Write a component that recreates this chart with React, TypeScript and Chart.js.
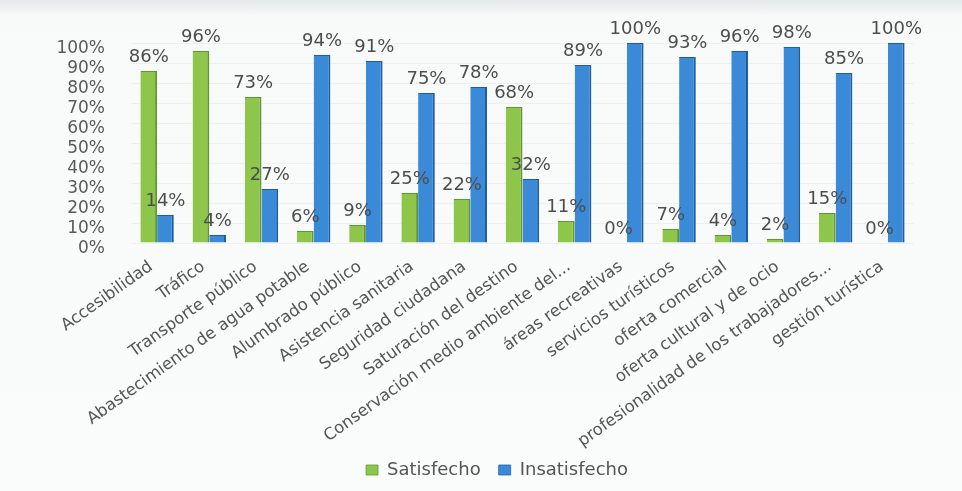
import React, { useEffect, useRef } from "react";
import { Chart, registerables } from "chart.js";

Chart.register(...registerables);

const categories = [
  "Accesibilidad",
  "Tráfico",
  "Transporte público",
  "Abastecimiento de agua potable",
  "Alumbrado público",
  "Asistencia sanitaria",
  "Seguridad ciudadana",
  "Saturación del destino",
  "Conservación medio ambiente del...",
  "áreas recreativas",
  "servicios turísticos",
  "oferta comercial",
  "oferta cultural y de ocio",
  "profesionalidad de los trabajadores...",
  "gestión turística",
];

const satisfecho = [86, 96, 73, 6, 9, 25, 22, 68, 11, 0, 7, 4, 2, 15, 0];
const insatisfecho = [14, 4, 27, 94, 91, 75, 78, 32, 89, 100, 93, 96, 98, 85, 100];

const FONT = "'DejaVu Sans', 'Noto Sans', sans-serif";

const valueLabels = {
  id: "valueLabels",
  afterDatasetsDraw(chart: any) {
    const ctx = chart.ctx;
    ctx.save();
    ctx.font = `18px ${FONT}`;
    ctx.fillStyle = "#4d4d4d";
    ctx.textAlign = "center";
    ctx.textBaseline = "middle";
    chart.data.datasets.forEach((ds: any, di: number) => {
      const meta = chart.getDatasetMeta(di);
      meta.data.forEach((bar: any, i: number) => {
        const v = ds.data[i];
        ctx.fillText(`${v}%`, bar.x, bar.y - 14);
      });
    });
    ctx.restore();
  },
};

const layoutTweaks = {
  id: "layoutTweaks",
  afterLayout(chart: any) {
    const lg = chart.legend;
    if (lg) {
      lg.left += 40;
      lg.right += 40;
    }
    const xs = chart.scales.x;
    if (xs) {
      xs._computeLabelArea = () => undefined;
    }
  },
};

export default function App() {
  const ref = useRef<HTMLCanvasElement | null>(null);

  useEffect(() => {
    if (!ref.current) return;
    const chart = new Chart(ref.current, {
      type: "bar",
      data: {
        labels: categories,
        datasets: [
          {
            label: "Satisfecho",
            data: satisfecho,
            backgroundColor: "#8dc64a",
            borderColor: "#5f9632",
            borderWidth: { right: 2, top: 1, left: 0, bottom: 0 },
            borderSkipped: false,
            categoryPercentage: 0.64,
            barPercentage: 1.0,
          },
          {
            label: "Insatisfecho",
            data: insatisfecho,
            backgroundColor: "#3a8ad8",
            borderColor: "#1e5e9e",
            borderWidth: { right: 2, top: 1, left: 0, bottom: 0 },
            borderSkipped: false,
            categoryPercentage: 0.64,
            barPercentage: 1.0,
          },
        ],
      },
      options: {
        animation: false,
        responsive: true,
        maintainAspectRatio: false,
        layout: { padding: { top: 43, right: 48, bottom: 2, left: 0 } },
        plugins: {
          tooltip: { enabled: false },
          legend: {
            position: "bottom",
            labels: {
              font: { family: FONT, size: 18 },
              color: "#555",
              boxWidth: 12,
              boxHeight: 10,
              padding: 18,
            },
          },
        },
        scales: {
          x: {
            grid: { display: false, drawTicks: false },
            border: { display: false },
            ticks: {
              autoSkip: false,
              minRotation: 35.5,
              maxRotation: 35.5,
              padding: 14,
              labelOffset: -6,
              color: "#555",
              font: { family: FONT, size: 16.5 },
            },
            afterFit: (scale: any) => {
              scale.height = 200;
            },
          },
          y: {
            min: 0,
            max: 100,
            grid: { color: "rgba(0,0,0,0.04)", drawTicks: false },
            border: { display: false },
            ticks: {
              stepSize: 10,
              autoSkip: false,
              padding: 26,
              labelOffset: 6,
              color: "#5a5a5a",
              font: { family: FONT, size: 17 },
              callback: (v: any) => `${v}%`,
            },
            afterFit: (scale: any) => {
              scale.width = 131;
            },
          },
        },
      },
      plugins: [valueLabels, layoutTweaks],
    });
    return () => chart.destroy();
  }, []);

  return (
    <div
      style={{
        position: "absolute",
        left: 0,
        top: 0,
        width: 962,
        height: 491,
        background:
          "linear-gradient(#e4e8e8 0px, #edf0f0 8px, #f8fafa 16px, #fafcfc 100%)",
      }}
    >
      <canvas ref={ref} />
    </div>
  );
}
